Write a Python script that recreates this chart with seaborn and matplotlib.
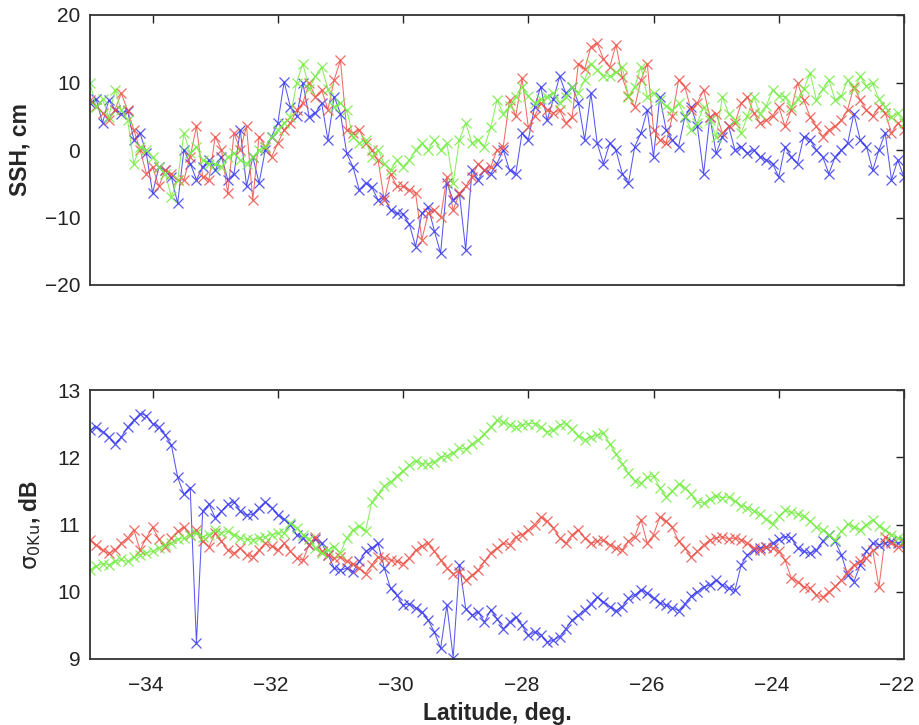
import numpy as np
import pandas as pd
import matplotlib
matplotlib.use("Agg")
import matplotlib.pyplot as plt
import matplotlib.transforms as mtransforms
import seaborn as sns

# Latitude grid (deg), -35.0 ... -22.0 in steps of 0.1
lat = np.round(np.linspace(-35.0, -22.0, 131), 1)

# ---- SSH, cm (top panel) ----
blue_ssh = [
    6.9, 7.5, 4.0, 7.4, 6.0, 5.4, 5.8, 1.5, 2.5, -0.5,
    -6.4, -2.5, -3.0, -4.0, -7.9, 0.0, -2.0, -4.4, -2.5, -1.5,
    -3.0, -1.0, -4.4, -3.5, 3.0, -5.4, -1.0, -4.9, 0.0, 2.0,
    4.0, 10.1, 6.4, 5.0, 9.9, 4.9, 5.5, 6.9, 1.5, 7.9,
    5.4, -0.5, -2.5, -5.9, -4.9, -5.5, -7.4, -7.0, -8.9, -9.4,
    -9.5, -11.0, -14.3, -9.4, -8.4, -12.0, -15.3, -4.9, -7.4, -6.5,
    -14.8, -3.0, -4.4, -3.0, -3.5, -2.0, 0.0, -3.0, -3.5, 2.5,
    1.5, 6.4, 9.4, 4.4, 7.5, 10.9, 8.4, 9.4, 7.0, 1.5,
    8.4, 1.0, -2.0, 1.0, 0.0, -3.5, -4.9, 0.5, 2.5, 5.9,
    -1.0, 7.9, 3.0, 1.5, 0.5, 4.9, 6.4, 3.5, -3.5, 4.9,
    -0.5, 2.0, 3.5, 0.0, 0.5, -0.5, 0.0, -1.0, -1.5, -2.0,
    -4.0, 0.5, -1.0, -2.0, 2.0, 1.5, 0.0, -1.0, -3.5, -1.0,
    0.0, 1.0, 5.4, 1.5, 0.5, -3.0, 0.0, 2.5, -4.4, -1.5,
    -4.0,
]
red_ssh = [
    7.4, 6.5, 5.5, 4.4, 6.0, 8.4, 5.9, 3.0, 0.0, -3.5,
    -2.5, -5.4, -3.0, -3.5, -4.5, -4.4, -1.0, 3.5, -4.0, -4.4,
    2.0, 0.0, -6.4, 2.5, 0.0, 3.5, -7.4, 2.0, 0.5, -1.0,
    1.0, 3.0, 4.0, 5.9, 7.0, 9.9, 7.9, 8.9, 6.0, 10.4,
    13.3, 3.0, 2.5, 3.0, 1.0, 0.0, -1.5, -7.4, -3.5, -5.4,
    -5.4, -5.9, -6.4, -13.3, -9.4, -8.9, -9.9, -4.0, -8.9, -6.4,
    -5.4, -4.0, -2.0, -3.0, -2.5, 0.0, 0.5, 7.4, 5.0, 10.6,
    3.4, 5.0, 6.9, 6.0, 5.5, 5.9, 4.0, 4.9, 12.8, 12.0,
    15.3, 15.8, 13.5, 12.3, 15.6, 10.8, 8.0, 6.4, 10.4, 12.8,
    3.0, 1.5, 1.0, 5.0, 10.4, 9.4, 5.9, 7.0, 8.9, 4.9,
    5.4, 2.5, 3.5, 4.0, 6.9, 7.9, 5.5, 4.0, 4.4, 5.0,
    6.4, 3.5, 6.0, 9.9, 7.4, 4.9, 3.5, 2.0, 3.0, 3.5,
    4.4, 6.0, 9.4, 7.4, 5.9, 5.0, 6.4, 5.5, 2.5, 4.0,
    3.0,
]
green_ssh = [
    9.9, 6.4, 7.5, 4.9, 8.9, 5.9, 4.5, -2.0, 0.5, 0.0,
    -1.0, -2.5, -3.5, -6.9, -4.4, 2.5, -0.5, 0.5, -1.5, -2.0,
    -2.0, -2.5, -1.0, -0.5, -1.5, -2.0, -1.0, 0.0, 0.5, 2.0,
    3.0, 4.0, 4.9, 10.0, 12.8, 9.0, 10.9, 12.3, 9.0, 6.4,
    7.0, 5.9, 2.0, 1.0, 1.5, -1.0, 0.0, -2.0, -3.0, -1.5,
    -2.5, -1.5, 0.0, 1.0, 0.0, 1.5, 0.0, 1.0, -4.9, 1.5,
    4.0, 1.0, 1.5, 0.5, 3.4, 7.4, 5.4, 6.5, 7.9, 9.4,
    8.0, 6.9, 7.5, 7.9, 8.5, 7.0, 7.9, 9.4, 8.5, 10.4,
    12.8, 11.9, 11.0, 10.9, 11.5, 12.3, 7.9, 9.4, 12.3, 7.9,
    8.5, 7.4, 6.5, 5.9, 6.9, 5.0, 3.0, 4.0, 6.4, 4.5,
    2.0, 7.9, 5.4, 4.5, 2.5, 5.0, 7.9, 5.4, 6.5, 8.9,
    8.0, 7.9, 6.4, 7.5, 9.0, 11.4, 7.4, 9.0, 10.4, 7.4,
    8.0, 10.4, 9.0, 10.9, 9.5, 9.9, 7.5, 6.4, 4.9, 5.5,
    4.0,
]

# ---- sigma0 Ku, dB (bottom panel) ----
blue_sig = [
    12.40, 12.45, 12.38, 12.30, 12.20, 12.30, 12.45, 12.55, 12.65, 12.62,
    12.50, 12.45, 12.33, 12.18, 11.70, 11.45, 11.55, 9.24, 11.20, 11.30,
    11.10, 11.20, 11.30, 11.34, 11.20, 11.14, 11.15, 11.25, 11.34, 11.25,
    11.14, 11.08, 11.00, 10.85, 10.80, 10.70, 10.78, 10.72, 10.55, 10.35,
    10.32, 10.35, 10.30, 10.45, 10.60, 10.65, 10.72, 10.35, 10.05, 9.95,
    9.80, 9.82, 9.76, 9.70, 9.58, 9.40, 9.16, 9.80, 9.02, 10.40,
    9.75, 9.65, 9.70, 9.55, 9.73, 9.60, 9.45, 9.55, 9.63, 9.50,
    9.35, 9.40, 9.36, 9.25, 9.28, 9.33, 9.45, 9.58, 9.65, 9.73,
    9.82, 9.92, 9.85, 9.78, 9.72, 9.78, 9.90, 9.95, 10.03, 9.98,
    9.90, 9.83, 9.80, 9.76, 9.72, 9.82, 9.93, 10.00, 10.07, 10.10,
    10.17, 10.10, 10.05, 10.02, 10.40, 10.55, 10.62, 10.65, 10.67, 10.72,
    10.78, 10.82, 10.80, 10.65, 10.60, 10.57, 10.62, 10.75, 10.85, 10.75,
    10.55, 10.25, 10.15, 10.40, 10.60, 10.72, 10.70, 10.72, 10.75, 10.72,
    10.75,
]
red_sig = [
    10.77, 10.70, 10.62, 10.57, 10.62, 10.72, 10.80, 10.92, 10.62, 10.80,
    10.96, 10.78, 10.67, 10.80, 10.90, 10.96, 10.85, 10.92, 10.75, 10.67,
    10.87, 10.75, 10.62, 10.57, 10.65, 10.55, 10.52, 10.62, 10.72, 10.68,
    10.62, 10.72, 10.60, 10.50, 10.47, 10.70, 10.82, 10.60, 10.55, 10.50,
    10.52, 10.45, 10.42, 10.35, 10.27, 10.40, 10.52, 10.50, 10.47, 10.45,
    10.42, 10.50, 10.62, 10.68, 10.72, 10.60, 10.47, 10.35, 10.27, 10.30,
    10.17, 10.25, 10.32, 10.45, 10.58, 10.65, 10.72, 10.70, 10.82, 10.85,
    10.92, 11.00, 11.11, 11.05, 10.95, 10.80, 10.72, 10.85, 10.92, 10.80,
    10.72, 10.75, 10.77, 10.70, 10.65, 10.62, 10.75, 10.82, 11.07, 10.72,
    10.85, 11.11, 11.05, 10.96, 10.75, 10.65, 10.52, 10.60, 10.70, 10.77,
    10.80, 10.82, 10.78, 10.80, 10.77, 10.72, 10.65, 10.62, 10.67, 10.65,
    10.60, 10.47, 10.20, 10.15, 10.07, 10.05, 9.95, 9.92, 10.00, 10.08,
    10.17, 10.30, 10.40, 10.45, 10.50, 10.62, 10.07, 10.82, 10.72, 10.67,
    10.72,
]
green_sig = [
    10.32, 10.38, 10.42, 10.40, 10.45, 10.48, 10.45, 10.52, 10.55, 10.58,
    10.60, 10.65, 10.70, 10.72, 10.78, 10.80, 10.85, 10.87, 10.82, 10.85,
    10.92, 10.88, 10.90, 10.85, 10.80, 10.78, 10.77, 10.80, 10.82, 10.85,
    10.87, 10.88, 11.02, 10.95, 10.85, 10.78, 10.65, 10.57, 10.62, 10.67,
    10.58, 10.80, 10.92, 10.98, 10.90, 11.33, 11.45, 11.57, 11.63, 11.72,
    11.80, 11.88, 11.95, 11.90, 11.90, 11.93, 12.00, 12.02, 12.06, 12.14,
    12.12, 12.20, 12.26, 12.35, 12.45, 12.55, 12.52, 12.48, 12.45, 12.48,
    12.50, 12.50, 12.45, 12.38, 12.40, 12.48, 12.50, 12.42, 12.32, 12.26,
    12.30, 12.33, 12.36, 12.20, 12.05, 11.90, 11.76, 11.65, 11.61, 11.70,
    11.72, 11.55, 11.41, 11.50, 11.60, 11.55, 11.45, 11.33, 11.32, 11.38,
    11.42, 11.40, 11.41, 11.35, 11.28, 11.25, 11.20, 11.16, 11.08, 11.01,
    11.12, 11.21, 11.18, 11.16, 11.12, 11.05, 10.96, 10.92, 10.85, 10.77,
    10.90, 11.01, 10.96, 10.92, 11.00, 11.07, 10.98, 10.92, 10.85, 10.80,
    10.77,
]

series_names = ["blue", "red", "green"]
colors = {"blue": "#3a3af2", "red": "#ee5248", "green": "#74ec42"}

xticks = [-34, -32, -30, -28, -26, -24, -22]
ssh_ticks = [-20, -10, 0, 10, 20]
sig_ticks = [9, 10, 11, 12, 13]

def long_df(b, r, g):
    frames = []
    for name, vals in zip(series_names, (b, r, g)):
        frames.append(pd.DataFrame({"lat": lat, "val": vals, "series": name}))
    return pd.concat(frames, ignore_index=True)

df_ssh = long_df(blue_ssh, red_ssh, green_ssh)
df_sig = long_df(blue_sig, red_sig, green_sig)

sns.set_style("white")
plt.rcParams["font.family"] = ["Liberation Sans", "DejaVu Sans"]
plt.rcParams["mathtext.fontset"] = "dejavusans"

fig = plt.figure(figsize=(9.19, 7.25), dpi=100)
ax1 = fig.add_axes([90 / 919, 1 - 285 / 725, 814 / 919, 270 / 725])
ax2 = fig.add_axes([90 / 919, 1 - 659 / 725, 814 / 919, 269 / 725])

line_kw = dict(marker="x", markersize=7, markeredgewidth=0.9,
               linewidth=0.75, alpha=0.85, estimator=None, sort=False,
               legend=False)

for ax, df in ((ax1, df_ssh), (ax2, df_sig)):
    for name in series_names:
        sub = df[df["series"] == name]
        sns.lineplot(data=sub, x="lat", y="val", color=colors[name], ax=ax,
                     markeredgecolor=colors[name], **line_kw)
    ax.set_xlim(-35, -22)
    ax.set_xticks(xticks)
    ax.tick_params(direction="in", top=True, right=True, length=5.5,
                   width=1.0, labelsize=15, pad=7, colors="#222222")
    ax.tick_params(axis="x", pad=12)
    for sp in ax.spines.values():
        sp.set_linewidth(1.3)
        sp.set_color("#333333")
    ax.set_xlabel("")
    ax.set_ylabel("")

ax1.set_ylim(-20, 20)
ax1.set_yticks(ssh_ticks)
ax1.set_yticklabels([str(t).replace("-", "\u2212") for t in ssh_ticks])
ax1.tick_params(axis="x", labelbottom=False)
ax1.set_ylabel("SSH, cm", fontsize=16.5, fontweight="bold")
ax1.yaxis.set_label_coords(-0.072, 0.5)

ax2.set_ylim(9, 13)
ax2.set_yticks(sig_ticks)
ax2.set_xticklabels([str(t).replace("-", "\u2212") for t in xticks])
shift = mtransforms.ScaledTranslation(-7 / 100, 0, fig.dpi_scale_trans)
for lbl in ax2.get_xticklabels():
    lbl.set_transform(lbl.get_transform() + shift)
ax2.set_ylabel(r"$\mathrm{\sigma}_{\mathrm{0Ku}}$, dB", fontsize=16.5,
               fontweight="bold")
ax2.yaxis.set_label_coords(-0.058, 0.5)
ax2.set_xlabel("Latitude, deg.", fontsize=16.5, fontweight="bold", labelpad=5)

fig.savefig("out.png", dpi=100)
